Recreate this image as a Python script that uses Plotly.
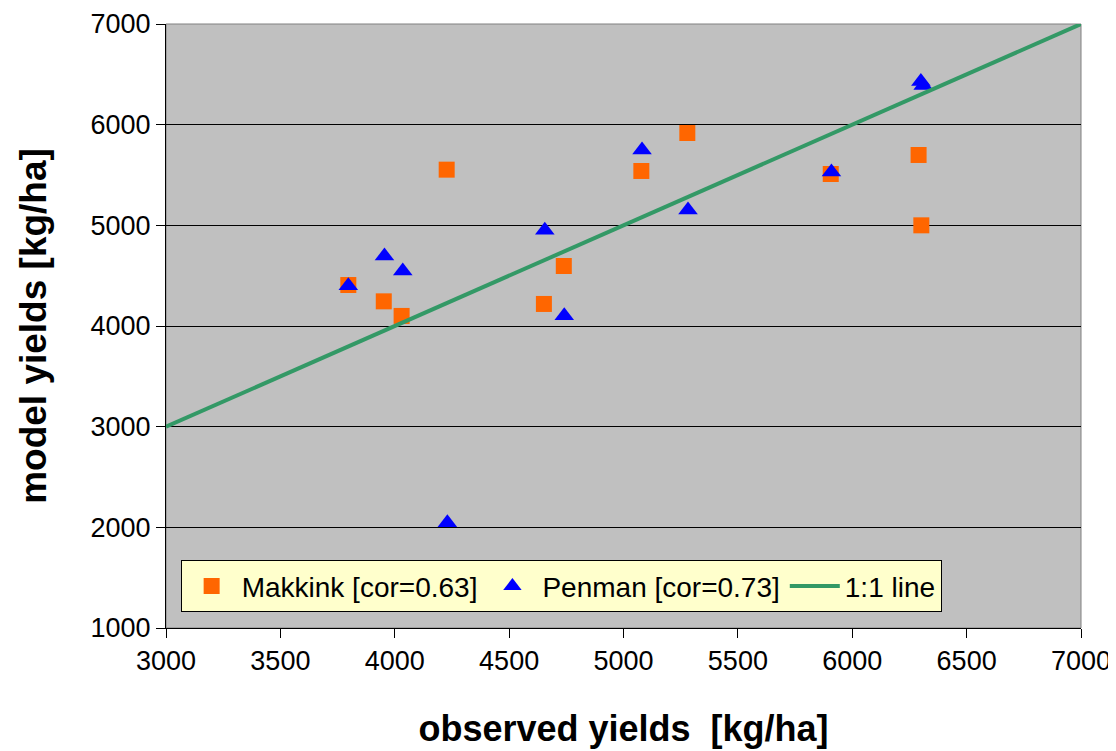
import plotly.graph_objects as go

# Makkink (squares)
makkink_obs = [3797, 3952, 4030, 4227, 4652, 4739, 5078, 5279, 5906, 6290, 6302]
makkink_mod = [4407, 4245, 4100, 5553, 4219, 4596, 5540, 5917, 5510, 5699, 5000]

# Penman (triangles)
penman_obs = [3797, 3955, 4035, 4230, 4656, 4741, 5081, 5282, 5909, 6300, 6310]
penman_mod = [4400, 4695, 4546, 2046, 4950, 4103, 5748, 5152, 5530, 6430, 6390]

# 1:1 line
line_xy = [3000, 7000]

fig = go.Figure()

fig.add_trace(go.Scatter(
    x=makkink_obs, y=makkink_mod, mode="markers",
    name="Makkink [cor=0.63]",
    marker=dict(symbol="square", size=16, color="#FF6600",
                line=dict(width=0)),
))
fig.add_trace(go.Scatter(
    x=penman_obs, y=penman_mod, mode="markers",
    name="Penman [cor=0.73]",
    marker=dict(symbol="triangle-up", size=17, color="#0000FF",
                line=dict(width=0)),
))
fig.add_trace(go.Scatter(
    x=line_xy, y=line_xy, mode="lines",
    name="1:1 line",
    line=dict(color="#339966", width=4),
))

# grey border round the plot area
fig.add_shape(type="rect", xref="paper", yref="paper", x0=0, x1=1, y0=0, y1=1,
              line=dict(color="#808080", width=1), layer="below")

# page body adds 8px offset, so margins are shifted by that amount
fig.update_layout(
    width=1116, height=751,
    margin=dict(l=158, r=43, t=16, b=131, autoexpand=False),
    paper_bgcolor="white",
    plot_bgcolor="#C0C0C0",
    font=dict(family="Liberation Sans, Arial, sans-serif", color="black"),
    showlegend=True,
    legend=dict(
        orientation="h",
        x=0.016, y=0.026, xanchor="left", yanchor="bottom",
        bgcolor="#FFFFCC", bordercolor="black", borderwidth=1,
        font=dict(size=28, color="black"),
        itemwidth=50,
    ),
    xaxis=dict(
        range=[3000, 7000], dtick=500, tick0=3000,
        showgrid=False, zeroline=False, automargin=False,
        showline=True, linecolor="black", linewidth=1,
        ticks="outside", ticklen=9, tickcolor="black",
        tickfont=dict(size=27),
        title=dict(text="observed yields\u00a0\u00a0[kg/ha]", standoff=40,
                   font=dict(size=36)),
    ),
    yaxis=dict(
        range=[1000, 7000], dtick=1000, tick0=1000,
        showgrid=True, gridcolor="black", gridwidth=1,
        zeroline=False, automargin=False,
        showline=True, linecolor="black", linewidth=1,
        ticks="outside", ticklen=9, tickcolor="black",
        tickfont=dict(size=27),
        title=dict(text="model yields [kg/ha]", standoff=32,
                   font=dict(size=37)),
    ),
)
fig.update_xaxes(title_font_weight="bold")
fig.update_yaxes(title_font_weight="bold")

fig.write_html("out.html")
